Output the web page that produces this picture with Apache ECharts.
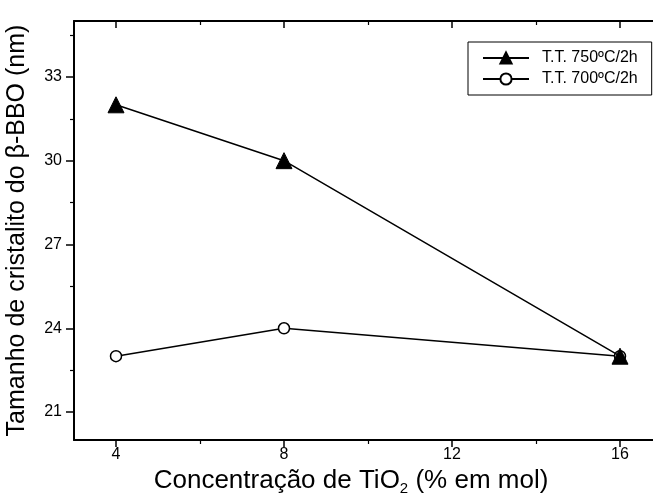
<!DOCTYPE html>
<html>
<head>
<meta charset="utf-8">
<script src="https://cdn.jsdelivr.net/npm/echarts@6/dist/echarts.min.js"></script>
<style>
  html, body { margin: 0; padding: 0; background: #fff; }
  #chart { width: 653px; height: 501px; }
</style>
</head>
<body>
<div id="chart"></div>
<script>
// TiO2 concentration (% mol)
const concentration = [4, 8, 16];
// Crystallite size (nm) for each heat treatment
const size750 = [32, 30, 23];
const size700 = [23, 24, 23];
const seriesNames = ['T.T. 750ºC/2h', 'T.T. 700ºC/2h'];

// Tick positions
const xMajorTicks = [4, 8, 12, 16];
const xMinorTicks = [6, 10, 14];
const yMajorTicks = [21, 24, 27, 30, 33];
const yMinorTicks = [22.5, 25.5, 28.5, 31.5, 34.5];

const font = 'Liberation Sans, Arial, Helvetica, sans-serif';
const black = '#000';

const chart = echarts.init(document.getElementById('chart'), null, { renderer: 'canvas' });

const xRange = { type: 'value', min: 3, max: 17, splitLine: { show: false } };
const yRange = { type: 'value', min: 20, max: 35, splitLine: { show: false } };

function tickAxis(base, extra) {
  return Object.assign({}, base, extra);
}

chart.setOption({
  backgroundColor: '#fff',
  animation: false,
  grid: { left: 74, top: 21, width: 588, height: 419, containLabel: false, outerBoundsMode: 'none' },
  legend: {
    left: 468, top: 42, width: 183,
    orient: 'vertical',
    itemWidth: 46, itemHeight: 14, itemGap: 5,
    padding: [8, 14, 8, 14],
    borderColor: black, borderWidth: 1,
    textStyle: { fontFamily: font, fontSize: 16, color: black, padding: [0, 0, 0, 8] },
    data: seriesNames
  },
  xAxis: [
    // bottom axis: line, major ticks, labels and title
    tickAxis(xRange, {
      position: 'bottom',
      name: '{a|Concentração de TiO}{s|2}{a| (% em mol)}',
      nameLocation: 'middle', nameGap: 25,
      nameTextStyle: {
        padding: [0, 34, 0, 0],
        rich: {
          a: { fontFamily: font, fontSize: 26, color: black },
          s: { fontFamily: font, fontSize: 15, color: black, padding: [16, 0, 0, 0] }
        }
      },
      axisLine: { show: true, lineStyle: { color: black, width: 2 } },
      axisTick: { show: true, inside: false, length: 7, customValues: xMajorTicks,
        lineStyle: { color: black, width: 1.5 } },
      axisLabel: { fontFamily: font, fontSize: 16, color: black, margin: 7, customValues: xMajorTicks }
    }),
    // bottom axis minor ticks
    tickAxis(xRange, {
      position: 'bottom',
      axisLine: { show: false },
      axisTick: { show: true, inside: false, length: 4, customValues: xMinorTicks,
        lineStyle: { color: black, width: 1.2 } },
      axisLabel: { show: false }
    }),
    // top frame with inward ticks
    tickAxis(xRange, {
      position: 'top',
      axisLine: { show: true, lineStyle: { color: black, width: 2 } },
      axisTick: { show: true, inside: true, length: 7, customValues: xMajorTicks,
        lineStyle: { color: black, width: 1.5 } },
      axisLabel: { show: false }
    }),
    tickAxis(xRange, {
      position: 'top',
      axisLine: { show: false },
      axisTick: { show: true, inside: true, length: 4, customValues: xMinorTicks,
        lineStyle: { color: black, width: 1.2 } },
      axisLabel: { show: false }
    })
  ],
  yAxis: [
    tickAxis(yRange, {
      position: 'left',
      name: 'Tamanho de cristalito do β-BBO (nm)',
      nameLocation: 'middle', nameGap: 44,
      nameTextStyle: { fontFamily: font, fontSize: 25, color: black },
      axisLine: { show: true, lineStyle: { color: black, width: 2 } },
      axisTick: { show: true, inside: false, length: 8, customValues: yMajorTicks,
        lineStyle: { color: black, width: 1.5 } },
      axisLabel: { fontFamily: font, fontSize: 16, color: black, margin: 12, customValues: yMajorTicks }
    }),
    tickAxis(yRange, {
      position: 'left',
      axisLine: { show: false },
      axisTick: { show: true, inside: false, length: 4, customValues: yMinorTicks,
        lineStyle: { color: black, width: 1.2 } },
      axisLabel: { show: false }
    }),
    tickAxis(yRange, {
      position: 'right',
      axisLine: { show: true, lineStyle: { color: black, width: 2 } },
      axisTick: { show: true, inside: true, length: 7, customValues: yMajorTicks,
        lineStyle: { color: black, width: 1.5 } },
      axisLabel: { show: false }
    })
  ],
  series: [
    {
      name: seriesNames[1],
      type: 'line',
      data: concentration.map((c, i) => [c, size700[i]]),
      symbol: 'circle', symbolSize: 11,
      itemStyle: { color: '#fff', borderColor: black, borderWidth: 1.5 },
      lineStyle: { color: black, width: 1.5 },
      z: 2
    },
    {
      name: seriesNames[0],
      type: 'line',
      data: concentration.map((c, i) => [c, size750[i]]),
      symbol: 'triangle', symbolSize: 16,
      itemStyle: { color: black, borderColor: black, borderWidth: 1 },
      lineStyle: { color: black, width: 1.5 },
      z: 3
    }
  ]
});
</script>
</body>
</html>
